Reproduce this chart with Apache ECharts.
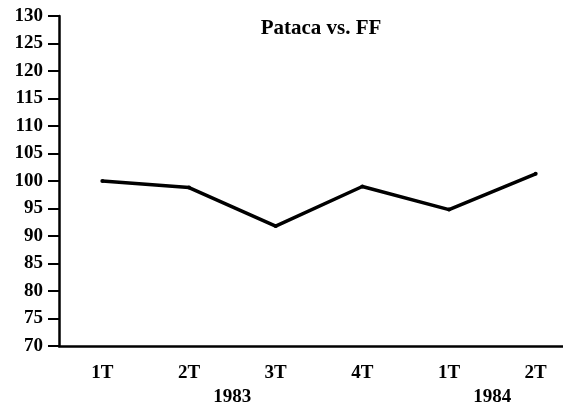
<!DOCTYPE html>
<html>
<head>
<meta charset="utf-8">
<script src="https://cdn.jsdelivr.net/npm/echarts@6/dist/echarts.min.js"></script>
<style>
  html, body { margin: 0; padding: 0; background: #fff; }
  #chart { width: 563px; height: 408px; }
</style>
</head>
<body>
<div id="chart"></div>
<script>
// quarters shown on the x axis
var quarters = ['1T', '2T', '3T', '4T', '1T', '2T'];
// Pataca against the French franc, index values
var patacaVsFF = [100, 98.8, 91.8, 99, 94.8, 101.3];
// year labels sit on half-steps between the quarters
var yearSlots = ['', '', '', '', '1983', '', '', '', '', '', '1984', '', ''];

var serif = '"Liberation Serif", "DejaVu Serif", serif';

var chart = echarts.init(document.getElementById('chart'), null, { renderer: 'canvas' });

var option = {
	animation: false,
	backgroundColor: '#fff',
	title: {
		text: 'Pataca vs. FF',
		left: 316,
		top: 13,
		textAlign: 'center',
		textStyle: { fontFamily: serif, fontSize: 21, fontWeight: 'bold', color: '#000' }
	},
	grid: { left: 59, right: -16, top: 16, bottom: 62, outerBoundsMode: 'none', containLabel: false },
	xAxis: [
		{
			type: 'category',
			data: quarters,
			boundaryGap: true,
			axisLine: { lineStyle: { color: '#000', width: 2.5 } },
			axisTick: { alignWithLabel: true, length: 7, lineStyle: { color: '#000', width: 2 } },
			axisLabel: { margin: 18, fontFamily: serif, fontSize: 19, fontWeight: 'bold', color: '#000' },
			splitLine: { show: false }
		},
		{
			type: 'category',
			position: 'bottom',
			data: yearSlots,
			boundaryGap: false,
			axisLine: { show: false },
			axisTick: { show: false },
			axisLabel: { interval: 0, margin: 42, fontFamily: serif, fontSize: 19, fontWeight: 'bold', color: '#000' },
			splitLine: { show: false }
		}
	],
	yAxis: {
		type: 'value',
		min: 70,
		max: 130,
		interval: 5,
		axisLine: { show: true, lineStyle: { color: '#000', width: 2.5 } },
		axisTick: { show: true, length: 11, lineStyle: { color: '#000', width: 2 } },
		axisLabel: { margin: 16, fontFamily: serif, fontSize: 19, fontWeight: 'bold', color: '#000' },
		splitLine: { show: false }
	},
	series: [
		{
			type: 'line',
			data: patacaVsFF,
			xAxisIndex: 0,
			symbol: 'circle',
			symbolSize: 4,
			itemStyle: { color: '#000' },
			lineStyle: { color: '#000', width: 3.5 }
		}
	]
};

chart.setOption(option);
</script>
</body>
</html>
